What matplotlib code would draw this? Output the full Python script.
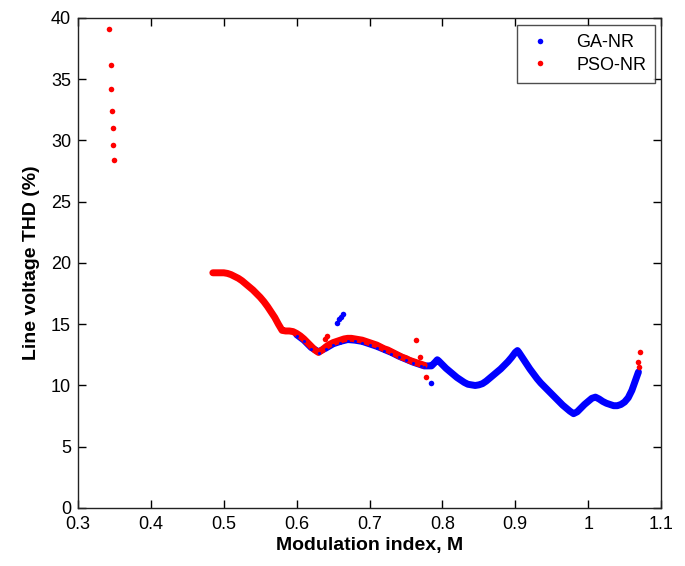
import matplotlib
matplotlib.use("Agg")
import matplotlib.pyplot as plt
from matplotlib.lines import Line2D

# Modulation index vs. line-voltage THD for the two optimisers
# PSO-NR: continuous band of solutions
pso_curve_m = [0.485, 0.490, 0.495, 0.500, 0.505, 0.510, 0.515, 0.520, 0.525, 0.530,
               0.535, 0.540, 0.545, 0.550, 0.555, 0.560, 0.565, 0.570, 0.575, 0.580,
               0.585, 0.590, 0.595, 0.600, 0.605, 0.610, 0.615, 0.620, 0.625, 0.630,
               0.635, 0.640, 0.645, 0.650, 0.655, 0.660, 0.665, 0.670, 0.675, 0.680,
               0.685, 0.690, 0.695, 0.700, 0.705, 0.710, 0.715, 0.720, 0.725, 0.730,
               0.735, 0.740, 0.745, 0.750, 0.755, 0.760, 0.765, 0.770, 0.775]
pso_curve_thd = [19.2, 19.2, 19.2, 19.2, 19.15, 19.05, 18.9, 18.75, 18.55, 18.3,
                 18.05, 17.8, 17.5, 17.2, 16.85, 16.45, 16.0, 15.55, 15.0, 14.5,
                 14.45, 14.45, 14.4, 14.25, 14.05, 13.8, 13.5, 13.2, 12.9, 12.7,
                 12.9, 13.15, 13.35, 13.5, 13.6, 13.7, 13.8, 13.85, 13.85, 13.8,
                 13.75, 13.7, 13.6, 13.5, 13.4, 13.3, 13.15, 13.0, 12.9, 12.75,
                 12.6, 12.45, 12.3, 12.2, 12.05, 11.95, 11.85, 11.75, 11.65]
# PSO-NR: isolated solutions
pso_extra_m = [0.343, 0.345, 0.345, 0.3466, 0.3485, 0.3485, 0.350,
               0.639, 0.642, 0.764, 0.769, 0.778, 1.069, 1.070, 1.071]
pso_extra_thd = [39.1, 36.2, 34.2, 32.4, 31.0, 29.6, 28.4,
                 13.8, 14.05, 13.7, 12.35, 10.67, 11.9, 11.5, 12.76]

# GA-NR: continuous band of solutions
ga_curve_m = [0.600, 0.610, 0.620, 0.630, 0.640, 0.650, 0.660, 0.670, 0.680, 0.690,
              0.700, 0.710, 0.720, 0.730, 0.740, 0.750, 0.760, 0.770,
              0.775, 0.780, 0.785, 0.790, 0.793, 0.795, 0.800, 0.805, 0.810, 0.815,
              0.820, 0.825, 0.830, 0.835, 0.840, 0.845, 0.850, 0.855, 0.860, 0.865,
              0.870, 0.875, 0.880, 0.885, 0.890, 0.895, 0.900, 0.903, 0.905, 0.910,
              0.915, 0.920, 0.925, 0.930, 0.935, 0.940, 0.945, 0.950, 0.955, 0.960,
              0.965, 0.970, 0.975, 0.980, 0.985, 0.990, 0.995, 1.000, 1.005, 1.010,
              1.015, 1.020, 1.025, 1.030, 1.035, 1.040, 1.045, 1.050, 1.055, 1.060,
              1.063, 1.066, 1.069]
ga_curve_thd = [14.15, 13.7, 13.1, 12.75, 13.05, 13.4, 13.6, 13.75, 13.7, 13.6,
                13.4, 13.2, 12.95, 12.7, 12.4, 12.15, 11.9, 11.7,
                11.6, 11.6, 11.6, 11.9, 12.1, 12.0, 11.7, 11.4, 11.15, 10.9,
                10.65, 10.45, 10.25, 10.1, 10.05, 10.0, 10.05, 10.15, 10.35, 10.6,
                10.85, 11.1, 11.35, 11.65, 11.95, 12.3, 12.7, 12.85, 12.7, 12.25,
                11.8, 11.35, 10.95, 10.55, 10.2, 9.9, 9.6, 9.3, 9.0, 8.7,
                8.4, 8.15, 7.9, 7.7, 7.85, 8.15, 8.45, 8.7, 8.95, 9.05,
                8.9, 8.7, 8.55, 8.45, 8.35, 8.35, 8.45, 8.65, 9.0, 9.6,
                10.1, 10.6, 11.1]
# GA-NR: isolated solutions
ga_extra_m = [0.655, 0.658, 0.661, 0.664, 0.785]
ga_extra_thd = [15.1, 15.4, 15.6, 15.8, 10.2]

x_ticks = [0.3, 0.4, 0.5, 0.6, 0.7, 0.8, 0.9, 1.0, 1.1]
x_tick_labels = ["0.3", "0.4", "0.5", "0.6", "0.7", "0.8", "0.9", "1", "1.1"]
y_ticks = [0, 5, 10, 15, 20, 25, 30, 35, 40]

BLUE = "#0000ff"
RED = "#ff0000"

plt.rcParams["font.family"] = ["Liberation Sans", "DejaVu Sans"]

fig = plt.figure(figsize=(6.85, 5.66), dpi=100)
ax = fig.add_axes([0.1139, 0.1025, 0.8511, 0.8657])

band = dict(linestyle="-", linewidth=5.0, solid_capstyle="round",
            solid_joinstyle="round")
dots = dict(linestyle="none", marker="o", markersize=4.0, markeredgewidth=0)

# GA band underneath, PSO band above it
ax.plot(ga_curve_m, ga_curve_thd, color=BLUE, zorder=2, **band)
ax.plot(ga_extra_m, ga_extra_thd, color=BLUE, zorder=2, **dots)
ax.plot(pso_curve_m, pso_curve_thd, color=RED, zorder=3, **band)
ax.plot(pso_extra_m, pso_extra_thd, color=RED, zorder=3, **dots)

# GA solutions that share the PSO band show through as small dots
ga_shared = [(m, t) for m, t in zip(ga_curve_m, ga_curve_thd) if m <= max(pso_curve_m)]
ax.plot([p[0] for p in ga_shared], [p[1] - 0.1 for p in ga_shared],
        linestyle="none", marker="o", markersize=2.2, markeredgewidth=0,
        color=BLUE, zorder=4)

ax.set_xlim(0.3, 1.1)
ax.set_ylim(0, 40)
ax.set_xticks(x_ticks)
ax.set_xticklabels(x_tick_labels)
ax.set_yticks(y_ticks)
ax.tick_params(direction="in", length=6, width=1, top=True, right=True,
               labelsize=13)
ax.tick_params(axis="x", pad=6)
ax.tick_params(axis="y", pad=5)
for sp in ax.spines.values():
    sp.set_linewidth(1.0)
    sp.set_color("#222222")

ax.set_xlabel("Modulation index, M", fontsize=14, fontweight="bold", labelpad=3)
ax.set_ylabel("Line voltage THD (%)", fontsize=14, fontweight="bold", labelpad=8)

handles = [Line2D([], [], color=BLUE, label="GA-NR", **dots),
           Line2D([], [], color=RED, label="PSO-NR", **dots)]
leg = ax.legend(handles=handles, loc="upper right", bbox_to_anchor=(0.99, 0.985),
                fontsize=13, frameon=True, fancybox=False, edgecolor="#222222",
                handlelength=1.6, handletextpad=1.2, borderpad=0.5,
                labelspacing=0.3, borderaxespad=0.0)
leg.get_frame().set_linewidth(1.0)

fig.savefig("out.png", dpi=100)
